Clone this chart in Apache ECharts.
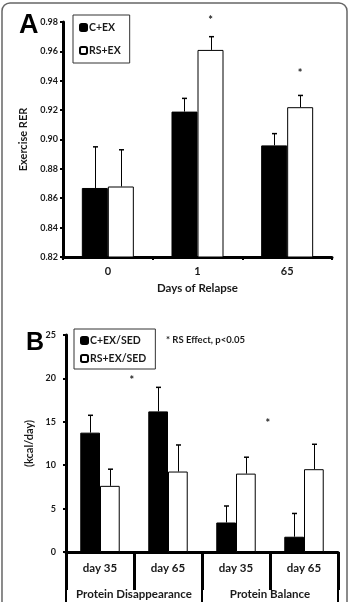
<!DOCTYPE html>
<html>
<head>
<meta charset="utf-8">
<script src="https://cdn.jsdelivr.net/npm/echarts@6/dist/echarts.min.js"></script>
<style>
  html, body { margin: 0; padding: 0; background: #fff; }
  #chart { width: 350px; height: 602px; }
</style>
</head>
<body>
<div id="chart"></div>
<script>
// panel A: exercise RER
const catsA = ['0', '1', '65']
const cexA = [0.867, 0.919, 0.896]
const cexErrA = [0.028, 0.009, 0.008]
const rsexA = [0.868, 0.961, 0.922]
const rsexErrA = [0.025, 0.009, 0.008]
const starsA = [null, 0.981, 0.945]   // asterisk above the RS+EX bar
const ticksA = [0.82, 0.84, 0.86, 0.88, 0.90, 0.92, 0.94, 0.96, 0.98]

// panel B: kcal/day
const catsB = ['day 35', 'day 65', 'day 35', 'day 65']
const groupsB = ['Protein Disappearance', 'Protein Balance']
const cB = [13.75, 16.2, 3.4, 1.76]
const cErrB = [2.0, 2.77, 1.9, 2.68]
const rsB = [7.62, 9.27, 9.03, 9.54]
const rsErrB = [1.92, 3.06, 1.89, 2.87]
const starsB = [19.8, null, 14.8, null]  // asterisk on the right edge of the category
const ticksB = [0, 5, 10, 15, 20, 25]

const font = 'Lato'
const BAR = 0.29

const chart = echarts.init(document.getElementById('chart'))

function errSeries(x, y, vals, errs, side) {
  return {
    type: 'custom',
    xAxisIndex: x,
    yAxisIndex: y,
    z: 5,
    silent: true,
    data: vals.map((v, i) => [i, v, errs[i]]),
    encode: { x: 0, y: 1 },
    renderItem(params, api) {
      const i = api.value(0)
      const v = api.value(1)
      const e = api.value(2)
      const band = api.size([1, 0])[0]
      const p = api.coord([i, v])
      const t = api.coord([i, v + e])
      const cx = Math.round(p[0] + side * band * BAR / 2) + 0.5
      return {
        type: 'group',
        children: [
          { type: 'line', shape: { x1: cx, y1: p[1], x2: cx, y2: t[1] }, style: { stroke: '#000', lineWidth: 1 } },
          { type: 'line', shape: { x1: cx - 2.5, y1: t[1], x2: cx + 2.5, y2: t[1] }, style: { stroke: '#000', lineWidth: 1.5 } }
        ]
      }
    }
  }
}

function starSeries(x, y, vals, shift) {
  return {
    type: 'custom',
    xAxisIndex: x,
    yAxisIndex: y,
    z: 6,
    silent: true,
    data: vals.map((v, i) => [i, v]).filter(d => d[1] != null),
    encode: { x: 0, y: 1 },
    renderItem(params, api) {
      const band = api.size([1, 0])[0]
      const p = api.coord([api.value(0), api.value(1)])
      return {
        type: 'text',
        x: p[0] + band * shift,
        y: p[1],
        style: { text: '*', fontSize: 11, fontWeight: 'bold', fontFamily: font, fill: '#222', align: 'center', verticalAlign: 'middle' }
      }
    }
  }
}

const axisLine = { lineStyle: { color: '#000', width: 3 } }
const labelStyle = { color: '#1a1a1a', fontWeight: 'bold', fontFamily: font }

chart.setOption({
  animation: false,
  graphic: [
    { type: 'rect', shape: { x: 2, y: 3, width: 345, height: 620, r: 8 }, style: { fill: 'none', stroke: '#666', lineWidth: 1.5 } },
    { type: 'text', left: 19, top: 12, style: { text: 'A', fontSize: 27, fontWeight: 'bold', fontFamily: 'Liberation Sans', fill: '#000' } },
    { type: 'text', left: 26, top: 331, style: { text: 'B', fontSize: 25, fontWeight: 'bold', fontFamily: 'Liberation Sans', fill: '#000' } },
    { type: 'text', left: 166, top: 335, style: { text: '* RS Effect, p<0.05', fontSize: 9.5, fontWeight: 'bold', fontFamily: font, fill: '#1a1a1a' } }
  ],
  legend: [
    {
      data: ['C+EX', 'RS+EX'],
      orient: 'vertical',
      left: 73, top: 15,
      itemWidth: 7, itemHeight: 7, itemGap: 12,
      padding: [7, 9, 7, 6],
      borderColor: '#333', borderWidth: 1,
      textStyle: { fontSize: 10.5, fontWeight: 'bold', fontFamily: font, color: '#1a1a1a', padding: [0, 0, 0, -3] }
    },
    {
      data: ['C+EX/SED', 'RS+EX/SED'],
      orient: 'vertical',
      left: 74, top: 329,
      itemWidth: 7, itemHeight: 7, itemGap: 7,
      padding: [6, 9, 5, 6],
      borderColor: '#333', borderWidth: 1,
      textStyle: { fontSize: 10.5, fontWeight: 'bold', fontFamily: font, color: '#1a1a1a', padding: [0, 0, 0, -3] }
    }
  ],
  grid: [
    { left: 63, right: 18, top: 22, bottom: 345 },
    { left: 66, right: 12, top: 335, bottom: 50 }
  ],
  xAxis: [
    {
      type: 'category', gridIndex: 0, data: catsA,
      name: 'Days of Relapse', nameLocation: 'middle', nameGap: 25,
      nameTextStyle: { fontSize: 11.5, fontWeight: 'bold', fontFamily: font, color: '#1a1a1a' },
      axisLine: axisLine,
      axisTick: { show: true, length: 3, lineStyle: { color: '#000', width: 2 } },
      axisLabel: Object.assign({ fontSize: 11, margin: 9, interval: 0 }, labelStyle)
    },
    {
      type: 'category', gridIndex: 1, data: catsB,
      axisLine: axisLine,
      axisTick: { show: true, length: 38, interval: 0, lineStyle: { color: '#000', width: 3 } },
      axisLabel: Object.assign({ fontSize: 11.5, margin: 10, interval: 0 }, labelStyle)
    },
    {
      type: 'category', gridIndex: 1, data: groupsB, position: 'bottom',
      axisLine: { show: false },
      axisTick: { show: true, length: 60, interval: 0, lineStyle: { color: '#000', width: 2 } },
      axisLabel: Object.assign({ fontSize: 11.5, margin: 36, interval: 0, hideOverlap: false }, labelStyle)
    }
  ],
  yAxis: [
    {
      type: 'value', gridIndex: 0, min: ticksA[0], max: ticksA[ticksA.length - 1], interval: 0.02,
      name: 'Exercise RER', nameLocation: 'middle', nameGap: 28, nameRotate: 90,
      nameTextStyle: { fontSize: 11, fontWeight: 'bold', fontFamily: font, color: '#1a1a1a' },
      axisLine: Object.assign({ show: true }, axisLine),
      axisTick: { show: true, length: 3, lineStyle: { color: '#000', width: 2 } },
      splitLine: { show: false },
      axisLabel: Object.assign({ fontSize: 9, margin: 5, formatter: v => v.toFixed(2) }, labelStyle)
    },
    {
      type: 'value', gridIndex: 1, min: ticksB[0], max: ticksB[ticksB.length - 1], interval: 5,
      name: '(kcal/day)', nameLocation: 'middle', nameGap: 29, nameRotate: 90,
      nameTextStyle: { fontSize: 11, fontWeight: 'bold', fontFamily: font, color: '#1a1a1a' },
      axisLine: Object.assign({ show: true }, axisLine),
      axisTick: { show: true, length: 3, lineStyle: { color: '#000', width: 2 } },
      splitLine: { show: false },
      axisLabel: Object.assign({ fontSize: 9, margin: 10 }, labelStyle)
    }
  ],
  series: [
    {
      name: 'C+EX', type: 'bar', xAxisIndex: 0, yAxisIndex: 0, data: cexA,
      barWidth: (BAR * 100) + '%', barGap: '0%',
      itemStyle: { color: '#000', borderColor: '#000', borderWidth: 1 }
    },
    {
      name: 'RS+EX', type: 'bar', xAxisIndex: 0, yAxisIndex: 0, data: rsexA,
      barWidth: (BAR * 100) + '%', barGap: '0%',
      itemStyle: { color: '#fff', borderColor: '#000', borderWidth: 1 }
    },
    errSeries(0, 0, cexA, cexErrA, -1),
    errSeries(0, 0, rsexA, rsexErrA, 1),
    starSeries(0, 0, starsA, BAR / 2),
    {
      name: 'C+EX/SED', type: 'bar', xAxisIndex: 1, yAxisIndex: 1, data: cB,
      barWidth: (BAR * 100) + '%', barGap: '0%',
      itemStyle: { color: '#000', borderColor: '#000', borderWidth: 1 }
    },
    {
      name: 'RS+EX/SED', type: 'bar', xAxisIndex: 1, yAxisIndex: 1, data: rsB,
      barWidth: (BAR * 100) + '%', barGap: '0%',
      itemStyle: { color: '#fff', borderColor: '#000', borderWidth: 1 }
    },
    errSeries(1, 1, cB, cErrB, -1),
    errSeries(1, 1, rsB, rsErrB, 1),
    starSeries(1, 1, starsB, 0.47)
  ]
})
</script>
</body>
</html>
